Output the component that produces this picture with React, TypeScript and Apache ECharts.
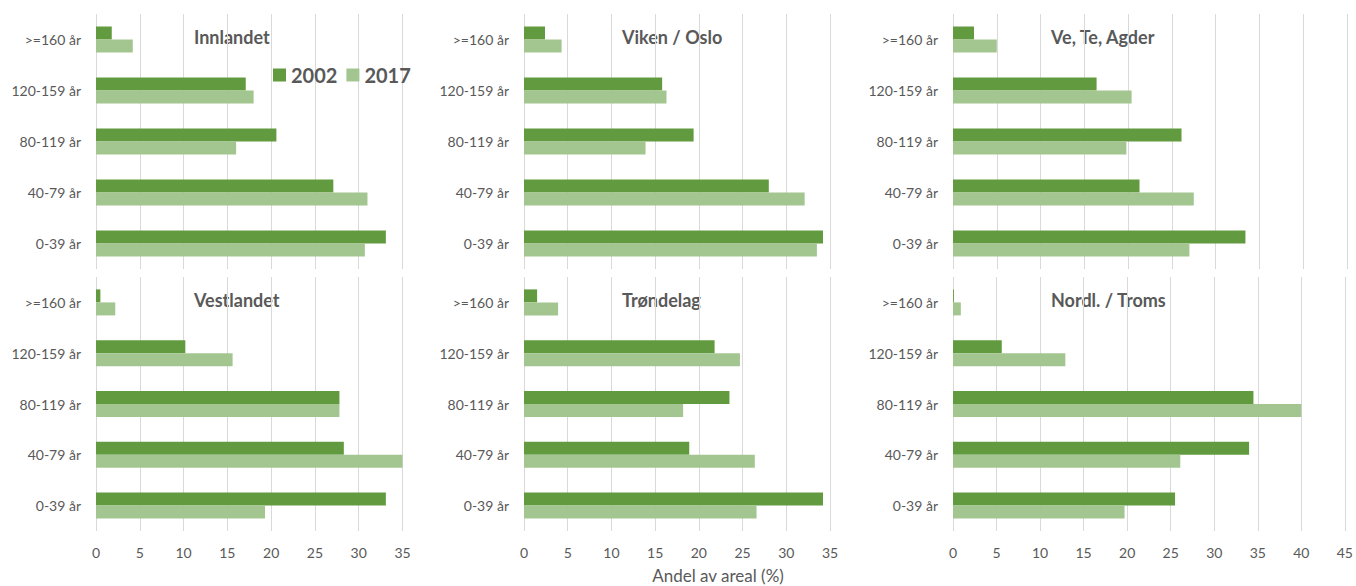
import React, { useEffect, useRef } from "react";
import * as echarts from "echarts";

const categories = ["0-39 år", "40-79 år", "80-119 år", "120-159 år", ">=160 år"];
const seriesNames = ["2002", "2017"];
const regions = ["Innlandet", "Viken / Oslo", "Ve, Te, Agder", "Vestlandet", "Trøndelag", "Nordl. / Troms"];
const axisMax = [35, 35, 45, 35, 35, 45];

const innlandet2002 = [33.1, 27.1, 20.6, 17.1, 1.8];
const innlandet2017 = [30.7, 31.0, 16.0, 18.0, 4.2];
const vikenOslo2002 = [34.2, 28.0, 19.4, 15.8, 2.4];
const vikenOslo2017 = [33.5, 32.1, 13.9, 16.3, 4.3];
const veTeAgder2002 = [33.4, 21.3, 26.1, 16.4, 2.4];
const veTeAgder2017 = [27.0, 27.5, 19.8, 20.4, 5.0];
const vestlandet2002 = [33.1, 28.3, 27.8, 10.2, 0.5];
const vestlandet2017 = [19.3, 35.0, 27.8, 15.6, 2.2];
const trondelag2002 = [34.2, 18.9, 23.5, 21.8, 1.5];
const trondelag2017 = [26.6, 26.4, 18.2, 24.7, 3.9];
const nordlTroms2002 = [25.5, 34.0, 34.5, 5.6, 0.1];
const nordlTroms2017 = [19.7, 26.1, 40.0, 12.9, 0.9];

const values2002 = [innlandet2002, vikenOslo2002, veTeAgder2002, vestlandet2002, trondelag2002, nordlTroms2002];
const values2017 = [innlandet2017, vikenOslo2017, veTeAgder2017, vestlandet2017, trondelag2017, nordlTroms2017];

const xAxisTitle = "Andel av areal (%)";

const DARK = "#629B3F";
const LIGHT = "#A3C690";
const TEXT = "#595959";
const FONT = "Lato, 'Liberation Sans', sans-serif";

export default function App() {
  const ref = useRef<HTMLDivElement>(null);
  useEffect(() => {
    if (!ref.current) return;
    const chart = echarts.init(ref.current, undefined, { renderer: "svg" });
    const cols = [
      { left: 96, width: 306.5 },
      { left: 524, width: 306 },
      { left: 953, width: 394 },
    ];
    const rows = [
      { top: 14, height: 255, titleY: 37 },
      { top: 277, height: 254, titleY: 299.5 },
    ];
    const grids: any[] = [];
    const xAxes: any[] = [];
    const yAxes: any[] = [];
    const series: any[] = [];
    const graphics: any[] = [];
    regions.forEach((name, i) => {
      const c = cols[i % 3];
      const r = rows[Math.floor(i / 3)];
      grids.push({ left: c.left, top: r.top, width: c.width, height: r.height, containLabel: false });
      xAxes.push({
        type: "value",
        gridIndex: i,
        min: 0,
        max: axisMax[i],
        interval: 5,
        axisLine: { show: false },
        axisTick: { show: false },
        axisLabel: { show: i >= 3, color: TEXT, fontSize: 14, fontFamily: FONT, margin: 14 },
        splitLine: { show: true, lineStyle: { color: "#D9D9D9", width: 1 } },
      });
      yAxes.push({
        type: "category",
        gridIndex: i,
        data: categories,
        axisLine: { show: false },
        axisTick: { show: false },
        axisLabel: { color: TEXT, fontSize: 14, fontFamily: FONT, margin: 15 },
        splitLine: { show: false },
      });
      series.push({
        name: seriesNames[0],
        type: "bar",
        xAxisIndex: i,
        yAxisIndex: i,
        data: values2002[i],
        barWidth: 13,
        barGap: "0%",
        itemStyle: { color: DARK },
      });
      series.push({
        name: seriesNames[1],
        type: "bar",
        xAxisIndex: i,
        yAxisIndex: i,
        data: values2017[i],
        barWidth: 13,
        barGap: "0%",
        itemStyle: { color: LIGHT },
      });
      graphics.push({
        type: "text",
        x: c.left + 98,
        y: r.titleY,
        style: {
          text: name,
          fill: TEXT,
          font: `bold 18px ${FONT}`,
          align: "left",
          verticalAlign: "middle",
        },
      });
    });
    graphics.push({
      type: "text",
      x: 718,
      y: 575,
      style: {
        text: xAxisTitle,
        fill: TEXT,
        font: `17px ${FONT}`,
        align: "center",
        verticalAlign: "middle",
      },
    });
    chart.setOption({
      animation: false,
      backgroundColor: "#ffffff",
      grid: grids,
      xAxis: xAxes,
      yAxis: yAxes,
      series,
      legend: {
        data: seriesNames,
        left: 268,
        top: 60,
        icon: "rect",
        itemWidth: 13,
        itemHeight: 13,
        itemGap: 9,
        textStyle: { color: TEXT, fontSize: 20, fontWeight: "bold", fontFamily: FONT },
      },
      graphic: graphics,
    });
    return () => chart.dispose();
  }, []);
  return (
    <div
      ref={ref}
      style={{ position: "fixed", left: 0, top: 0, width: 1356, height: 586, background: "#fff" }}
    />
  );
}
